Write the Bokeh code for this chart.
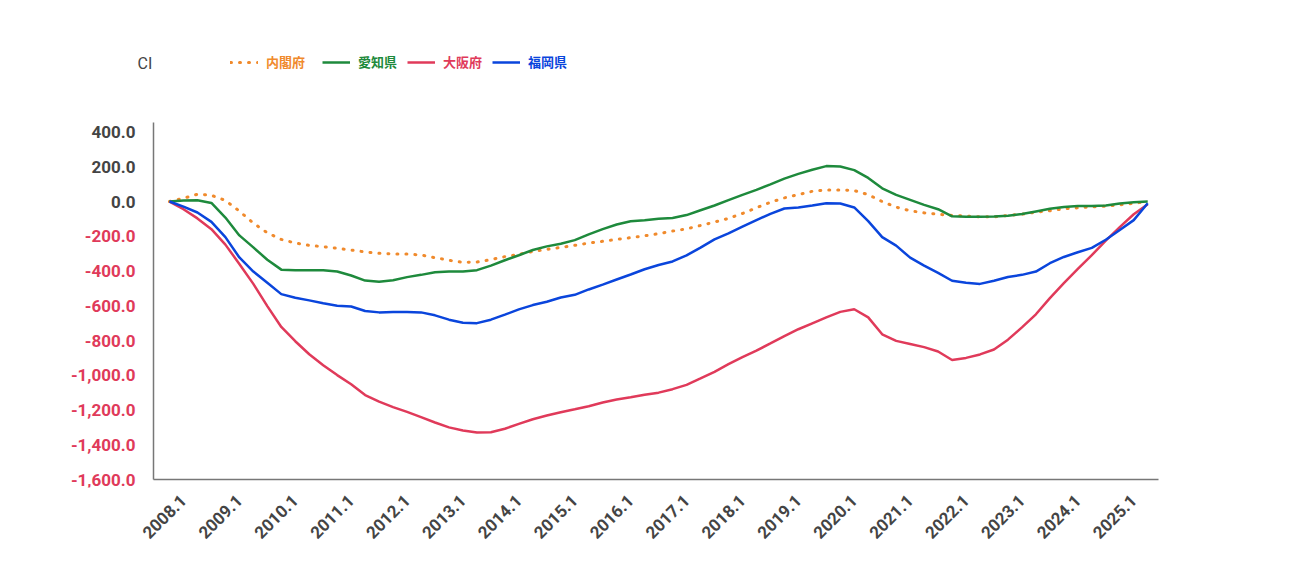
import math
from bokeh.plotting import figure
from bokeh.models import (ColumnDataSource, Legend, LegendItem, FixedTicker, Range1d,
                          PrintfTickFormatter)
from bokeh.core.properties import value
from bokeh.embed import file_html
from bokeh.resources import INLINE

# quarterly time points (decimal years), Oct 2007 .. Apr 2025
quarters = [2007.75 + 0.25 * i for i in range(71)]

cabinet = [0, 19, 42, 36, 6, -55, -124, -180, -218, -239, -252, -260, -269, -279, -290, -298,
           -302, -302, -308, -323, -338, -350, -348, -334, -317, -304, -288, -275, -264, -252,
           -239, -229, -218, -208, -197, -185, -170, -157, -138, -118, -97, -69, -36, -4, 21,
           40, 59, 67, 67, 63, 40, 0, -32, -53, -65, -73, -80, -84, -88, -88, -80, -73, -61,
           -53, -42, -36, -31, -27, -19, -10, 0]
aichi = [0, 6, 8, -8, -92, -195, -264, -335, -392, -395, -395, -395, -403, -426, -455, -462,
         -453, -435, -422, -407, -403, -403, -395, -369, -338, -309, -279, -258, -243, -222,
         -189, -159, -132, -113, -107, -99, -95, -78, -50, -23, 8, 38, 67, 99, 132, 159, 183,
         204, 202, 181, 136, 76, 38, 10, -19, -44, -85, -88, -88, -86, -82, -72, -57, -42,
         -31, -25, -25, -23, -11, -4, 0]
osaka = [0, -44, -97, -159, -248, -359, -474, -602, -722, -804, -879, -942, -999, -1052,
         -1114, -1152, -1183, -1211, -1241, -1272, -1300, -1318, -1330, -1328, -1308, -1280,
         -1253, -1232, -1213, -1196, -1178, -1157, -1140, -1127, -1112, -1100, -1080, -1055,
         -1018, -980, -936, -896, -858, -817, -775, -735, -701, -667, -635, -620, -667, -764,
         -802, -820, -838, -863, -912, -900, -880, -852, -795, -724, -649, -556, -470, -388,
         -308, -225, -147, -73, -15]
fukuoka = [0, -29, -63, -117, -205, -322, -403, -468, -533, -554, -569, -586, -600, -604,
           -630, -638, -636, -636, -638, -655, -680, -698, -700, -680, -651, -621, -596, -577,
           -552, -537, -506, -478, -449, -420, -390, -365, -345, -310, -265, -218, -183, -145,
           -107, -71, -40, -34, -23, -10, -11, -34, -113, -205, -254, -323, -369, -411, -456,
           -468, -474, -456, -434, -422, -403, -355, -319, -292, -267, -220, -164, -107, -10]

series_names = ["内閣府", "愛知県", "大阪府", "福岡県"]
series_colors = ["#F08A2C", "#1E8A3C", "#E03A5A", "#0A45DC"]
year_ticks = list(range(2008, 2026))
y_ticks = [400, 200, 0, -200, -400, -600, -800, -1000, -1200, -1400, -1600]

# ---- layout geometry (pixels) ----
W, H = 1290, 564
T0, T1 = 2007.464, 2025.443          # x extent of plotting area
Y0, Y1 = -1600, 455                   # y extent of plotting area
PL, PR, PT, PB = 153, 1158, 122, 479  # plotting area box in pixels
FB = PB + 8                           # bottom of bokeh frame
xs = (T1 - T0) / (PR - PL)
ys = (Y1 - Y0) / (PB - PT)


def px_x(px):
    return T0 + (px - PL) * xs


def px_y(py):
    return Y0 + (PB - py) * ys


p = figure(width=W, height=H, output_backend="svg", toolbar_location=None,
           x_range=Range1d(px_x(0), px_x(W)), y_range=Range1d(px_y(FB), px_y(0)),
           y_axis_location=None,
           min_border_left=0, min_border_right=0, min_border_top=0,
           min_border_bottom=H - FB)
p.outline_line_color = None
p.grid.visible = False

# axis lines of the plotting area
p.segment(x0=[T0, T0], y0=[Y0, Y0], x1=[T0, T1], y1=[Y1, Y0],
          line_color="#777777", line_width=1.5)

src = ColumnDataSource(dict(t=quarters, a=cabinet, b=aichi, c=osaka, d=fukuoka))
r_cab = p.line("t", "a", source=src, line_color=series_colors[0], line_width=3,
               line_dash="1 8", line_cap="round")
r_aic = p.line("t", "b", source=src, line_color=series_colors[1], line_width=2.5)
r_osa = p.line("t", "c", source=src, line_color=series_colors[2], line_width=2.5)
r_fuk = p.line("t", "d", source=src, line_color=series_colors[3], line_width=2.5)

# x axis
xa = p.xaxis[0]
xa.ticker = FixedTicker(ticks=year_ticks)
xa.formatter = PrintfTickFormatter(format="%d.1")
xa.major_label_orientation = math.pi / 4
xa.major_tick_line_color = None
xa.minor_tick_line_color = None
xa.axis_line_color = None
xa.major_label_text_font = "Roboto"
xa.major_label_text_font_style = "bold"
xa.major_label_text_font_size = "17px"
xa.major_label_text_color = "#444444"
xa.major_label_standoff = 4

# y tick labels (two colours)
ylab = ColumnDataSource(dict(
    y=y_ticks,
    x=[px_x(PL - 18)] * len(y_ticks),
    text=["{:,.1f}".format(v) for v in y_ticks],
    color=["#444444" if v >= 0 else "#E03A5A" for v in y_ticks],
))
p.text(x="x", y="y", text="text", source=ylab, text_align="right",
       text_baseline="middle", text_color="color", text_font=value("Roboto"),
       text_font_style="bold", text_font_size="17px")

# "CI" caption
p.text(x=[px_x(137)], y=[px_y(63)], text=["CI"], text_font=value("Roboto"),
       text_font_size="16px", text_color="#444444", text_baseline="middle",
       text_align="left")

# legend: one per item so that each label has its own colour
for r, name, col, xpos in zip([r_cab, r_aic, r_osa, r_fuk], series_names, series_colors,
                              [230, 322, 407, 492]):
    leg = Legend(items=[LegendItem(label=name, renderers=[r])],
                 location=(xpos, FB - 71), orientation="horizontal",
                 label_text_color=col, label_text_font="Noto Sans CJK JP",
                 label_text_font_style="bold", label_text_font_size="13px",
                 glyph_width=28, glyph_height=16, label_height=16, label_standoff=8,
                 padding=0, margin=0, spacing=0,
                 background_fill_alpha=0, border_line_alpha=0)
    p.add_layout(leg, "center")

open("out.html", "w").write(file_html(p, INLINE))
